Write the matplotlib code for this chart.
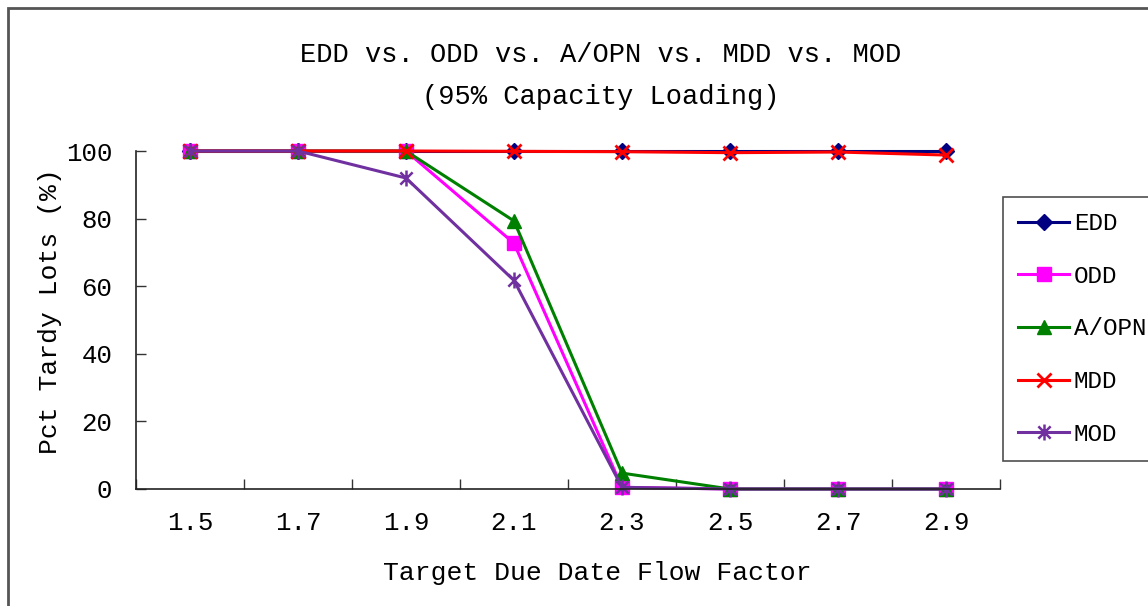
import numpy as np
import matplotlib.pyplot as plt
from matplotlib.path import Path
from matplotlib.patches import Rectangle

# data
flow_factors = ["1.5", "1.7", "1.9", "2.1", "2.3", "2.5", "2.7", "2.9"]
edd = [100, 100, 100, 100, 100, 100, 100, 100]
odd = [100, 100, 100, 72.7, 0.5, 0, 0, 0]
aopn = [100, 100, 100, 79.3, 4.7, 0, 0, 0]
mdd = [100, 100, 100, 99.9, 99.8, 99.5, 99.7, 98.8]
mod = [100, 100, 92.0, 61.7, 0.5, 0, 0, 0]

FONT = "Liberation Mono"

# excel style asterisk: an x with a vertical bar
star = Path(
    [(-1, -1), (1, 1), (-1, 1), (1, -1), (0, -1.3), (0, 1.3)],
    [Path.MOVETO, Path.LINETO] * 3,
)

series = [
    ("EDD", edd, dict(color="#000080", marker="D", ms=8)),
    ("ODD", odd, dict(color="#FF00FF", marker="s", ms=10)),
    ("A/OPN", aopn, dict(color="#008000", marker="^", ms=10.5)),
    ("MDD", mdd, dict(color="#FF0000", marker="x", ms=10, mew=2)),
    ("MOD", mod, dict(color="#7030A0", marker=star, ms=11.5, mew=1.8, mfc="none")),
]

fig = plt.figure(figsize=(11.48, 6.06), dpi=100)
ax = fig.add_axes([136 / 1148, 117 / 606, 864 / 1148, 338 / 606])

x = np.arange(len(flow_factors))
for name, vals, style in series:
    ax.plot(x, vals, lw=2.2, label=name, clip_on=False, **style)

ax.set_xlim(-0.5, len(flow_factors) - 0.5)
ax.set_ylim(0, 100)
ax.set_yticks(np.arange(0, 101, 20))
ax.set_xticks(np.arange(-0.5, len(flow_factors)), labels=[])
ax.set_xticks(x, labels=flow_factors, minor=True)

ax.tick_params(axis="x", which="major", direction="in", length=7, width=1, color="#333333")
ax.tick_params(axis="x", which="minor", length=0, pad=16, labelsize=18.5)
ax.tick_params(axis="y", direction="in", length=7, width=1, color="#333333",
               pad=17, labelsize=18.5)
for lab in ax.get_xticklabels(minor=True) + ax.get_yticklabels():
    lab.set_fontfamily(FONT)

for side in ["top", "right"]:
    ax.spines[side].set_visible(False)
for side in ["left", "bottom"]:
    ax.spines[side].set_color("#222222")
    ax.spines[side].set_linewidth(1.2)

fig.text(601 / 1148, 1 - 55 / 606, "EDD vs. ODD vs. A/OPN vs. MDD vs. MOD",
         ha="center", va="center", fontsize=19.5, family=FONT)
fig.text(601 / 1148, 1 - 97 / 606, "(95% Capacity Loading)",
         ha="center", va="center", fontsize=19.5, family=FONT)
fig.text(597 / 1148, 1 - 573 / 606, "Target Due Date Flow Factor",
         ha="center", va="center", fontsize=19, family=FONT)
fig.text(50 / 1148, 1 - 311 / 606, "Pct Tardy Lots (%)", rotation=90,
         ha="center", va="center", fontsize=19, family=FONT)

leg = fig.legend(
    loc="upper left",
    bbox_to_anchor=(1003 / 1148, 1 - 197 / 606),
    prop=dict(family=FONT, size=17.5),
    frameon=True,
    fancybox=False,
    handlelength=2.1,
    handletextpad=0.2,
    labelspacing=1.22,
    borderpad=0.62,
    borderaxespad=0,
)
leg.get_frame().set_edgecolor("#222222")
leg.get_frame().set_linewidth(1.2)

# outer chart border (only top and left visible in the crop)
fig.patches.append(
    Rectangle((8 / 1148, -0.5), 2, 0.5 + 1 - 8 / 606, transform=fig.transFigure,
              fill=False, edgecolor="#555555", lw=2)
)

fig.savefig("out.png", dpi=100)
